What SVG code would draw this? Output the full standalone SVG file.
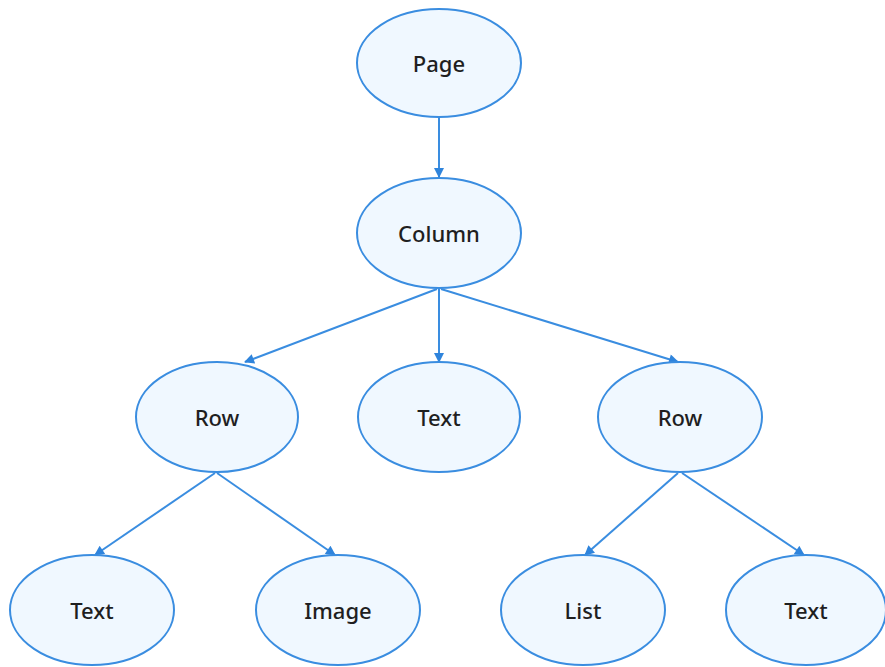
<svg xmlns="http://www.w3.org/2000/svg" width="885" height="667" viewBox="0 0 885 667">
  <style>
    .node ellipse { fill: #f0f8ff; stroke: #3a8de0; stroke-width: 2; }
    .node text { font-family: "Noto Sans", "Liberation Sans", sans-serif; font-size: 22px; font-weight: 500; fill: #1f1f1f; text-anchor: middle; dominant-baseline: central; }
    .edges line { stroke: #3a8de0; stroke-width: 2; marker-end: url(#arrow); }
  </style>
  <defs>
    <marker id="arrow" viewBox="0 0 10 10" refX="9" refY="5" markerWidth="11" markerHeight="10" markerUnits="userSpaceOnUse" orient="auto">
      <path d="M0,0 L10,5 L0,10 z" fill="#2f84dc"/>
    </marker>
  </defs>
  <rect width="885" height="667" fill="#ffffff"/>

  <!-- connectors -->
  <g class="edges">
    <line x1="439" y1="118" x2="439" y2="177"/>
    <line x1="437" y1="289" x2="245" y2="362"/>
    <line x1="439" y1="289" x2="439" y2="362"/>
    <line x1="441" y1="289" x2="678" y2="362"/>
    <line x1="215" y1="473" x2="95" y2="555"/>
    <line x1="217" y1="473" x2="335" y2="555"/>
    <line x1="678" y1="473" x2="585" y2="555"/>
    <line x1="682" y1="473" x2="804" y2="555"/>
  </g>

  <!-- nodes -->
  <g id="page" class="node">
    <ellipse cx="439" cy="63" rx="82" ry="54"/>
    <text x="439" y="63">Page</text>
  </g>
  <g id="column" class="node">
    <ellipse cx="439" cy="233" rx="82" ry="55"/>
    <text x="439" y="233">Column</text>
  </g>
  <g id="row-left" class="node">
    <ellipse cx="217" cy="417" rx="81" ry="55"/>
    <text x="217" y="417">Row</text>
  </g>
  <g id="text-middle" class="node">
    <ellipse cx="439" cy="417" rx="81" ry="55"/>
    <text x="439" y="417">Text</text>
  </g>
  <g id="row-right" class="node">
    <ellipse cx="680" cy="417" rx="82" ry="55"/>
    <text x="680" y="417">Row</text>
  </g>
  <g id="text-left" class="node">
    <ellipse cx="92" cy="610" rx="82" ry="55"/>
    <text x="92" y="610">Text</text>
  </g>
  <g id="image" class="node">
    <ellipse cx="338" cy="610" rx="82" ry="55"/>
    <text x="338" y="610">Image</text>
  </g>
  <g id="list" class="node">
    <ellipse cx="583" cy="610" rx="82" ry="55"/>
    <text x="583" y="610">List</text>
  </g>
  <g id="text-right" class="node">
    <ellipse cx="806" cy="610" rx="80" ry="55"/>
    <text x="806" y="610">Text</text>
  </g>
</svg>
